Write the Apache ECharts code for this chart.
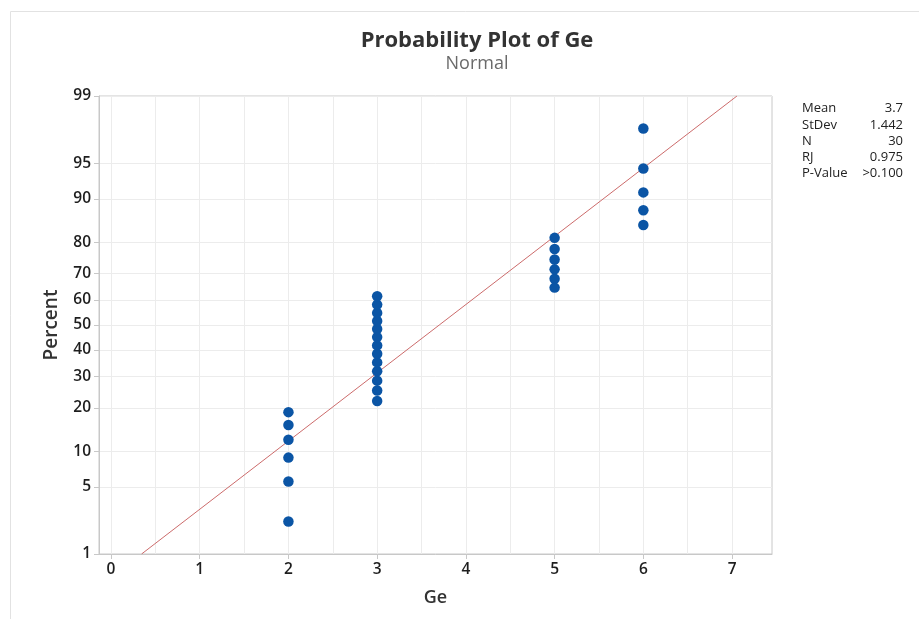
<!DOCTYPE html>
<html>
<head>
<meta charset="utf-8">
<script src="https://cdn.jsdelivr.net/npm/echarts@6/dist/echarts.min.js"></script>
<style>html,body{margin:0;padding:0;background:#fff}#c{width:919px;height:619px}</style>
</head>
<body>
<div id="c"></div>
<script>
// ---- data ----
var geValues = [2,2,2,2,2,2, 3,3,3,3,3,3,3,3,3,3,3,3,3, 5,5,5,5,5,5, 6,6,6,6,6];
var percentValues = [2.3,5.6,8.9,12.2,15.5,18.8, 22.0,25.3,28.6,31.9,35.2,38.5,41.8,45.1,48.4,51.6,54.9,58.2,61.5, 64.8,68.1,71.4,74.7,78.0,81.2, 84.5,87.8,91.1,94.4,97.7];
var fitLineX = [0.345, 7.055];
var fitLineP = [1, 99];
var percentTicks = [1,5,10,20,30,40,50,60,70,80,90,95,99];
var xTicks = [0,1,2,3,4,5,6,7];
var xGridLines = [0,0.5,1,1.5,2,2.5,3,3.5,4,4.5,5,5.5,6,6.5,7];
var statLabels = ['Mean','StDev','N','RJ','P-Value'];
var statValues = ['3.7','1.442','30','0.975','>0.100'];

// normal quantile (probability scale transform)
function normInv(p){
  var a=[-3.969683028665376e+01,2.209460984245205e+02,-2.759285104469687e+02,1.383577518672690e+02,-3.066479806614716e+01,2.506628277459239e+00];
  var b=[-5.447609879822406e+01,1.615858368580409e+02,-1.556989798598866e+02,6.680131188771972e+01,-1.328068155288572e+01];
  var c=[-7.784894002430293e-03,-3.223964580411365e-01,-2.400758277161838e+00,-2.549732539343734e+00,4.374664141464968e+00,2.938163982698783e+00];
  var d=[7.784695709041462e-03,3.224671290700398e-01,2.445134137142996e+00,3.754408661907416e+00];
  var pl=0.02425,q,r;
  if(p<pl){q=Math.sqrt(-2*Math.log(p));return (((((c[0]*q+c[1])*q+c[2])*q+c[3])*q+c[4])*q+c[5])/((((d[0]*q+d[1])*q+d[2])*q+d[3])*q+1);}
  if(p<=1-pl){q=p-0.5;r=q*q;return (((((a[0]*r+a[1])*r+a[2])*r+a[3])*r+a[4])*r+a[5])*q/(((((b[0]*r+b[1])*r+b[2])*r+b[3])*r+b[4])*r+1);}
  q=Math.sqrt(-2*Math.log(1-p));return -(((((c[0]*q+c[1])*q+c[2])*q+c[3])*q+c[4])*q+c[5])/((((d[0]*q+d[1])*q+d[2])*q+d[3])*q+1);
}
function z(pct){return normInv(pct/100);}
function round3(v){return Math.round(v*1000)/1000;}

var yTickZ = percentTicks.map(z);
var labelMap = {};
percentTicks.forEach(function(p,i){labelMap[round3(yTickZ[i])]=String(p);});

var pts = geValues.map(function(g,i){return [g, z(percentValues[i])];});
var linePts = fitLineX.map(function(x,i){return [x, z(fitLineP[i])];});

var FONT = '"Open Sans","Noto Sans",sans-serif';
var chart = echarts.init(document.getElementById('c'), null, {renderer:'canvas'});

var stats = [];
statLabels.forEach(function(l,i){
  stats.push({type:'text', left:802, top:102+i*16.3, style:{text:l, fill:'#222', font:'13px '+FONT}});
  stats.push({type:'text', right:16, top:102+i*16.3, style:{text:statValues[i], fill:'#222', font:'13px '+FONT, textAlign:'right'}});
});

chart.setOption({
  animation:false,
  backgroundColor:'#fff',
  title:{
    text:'Probability Plot of Ge', subtext:'Normal', left:472, textAlign:'center', top:25, itemGap:3,
    textStyle:{fontFamily:FONT, fontSize:22, fontWeight:'bold', color:'#333'},
    subtextStyle:{fontFamily:FONT, fontSize:18, color:'#6a6a6a'}
  },
  grid:{left:99, top:96, right:147, bottom:65, show:true, borderColor:'#c8c8c8', borderWidth:1},
  graphic:[
    {type:'rect', shape:{x:10.5, y:11.5, width:1000, height:700}, style:{fill:'none', stroke:'#e2e2e2', lineWidth:1}, z:-10}
  ].concat(stats),
  xAxis:[{
    type:'value', min:-0.135, max:7.45,
    name:'Ge', nameLocation:'middle', nameGap:35,
    nameTextStyle:{fontFamily:FONT, fontSize:18, fontWeight:600, color:'#333'},
    axisLine:{show:true, onZero:false, lineStyle:{color:'#c8c8c8'}},
    axisTick:{show:true, length:5, lineStyle:{color:'#c8c8c8'}, customValues:xTicks},
    axisLabel:{customValues:xTicks, fontFamily:FONT, fontSize:15.5, fontWeight:600, color:'#1e1e1e', margin:8},
    splitLine:{show:false}
  },{
    type:'value', min:-0.135, max:7.45, position:'bottom',
    axisLine:{show:false, onZero:false}, axisLabel:{show:false},
    axisTick:{show:false, customValues:xGridLines},
    splitLine:{show:true, lineStyle:{color:'#ececec', width:1}}
  }],
  yAxis:{
    type:'value', min:z(1), max:z(99),
    name:'Percent', nameLocation:'middle', nameGap:38, nameRotate:90,
    nameTextStyle:{fontFamily:FONT, fontSize:19, fontWeight:600, color:'#333'},
    axisLine:{show:true, onZero:false, lineStyle:{color:'#c8c8c8'}},
    axisTick:{show:true, length:5, lineStyle:{color:'#c8c8c8'}, customValues:yTickZ},
    axisLabel:{customValues:yTickZ, fontFamily:FONT, fontSize:15.5, fontWeight:600, color:'#1e1e1e', margin:8,
      formatter:function(v){var k=round3(v);return labelMap[k]!==undefined?labelMap[k]:'';}},
    splitLine:{show:true, lineStyle:{color:'#ececec'}}
  },
  series:[{
    type:'line', data:linePts, showSymbol:false, symbol:'none',
    lineStyle:{color:'#cc6b6b', width:1}, z:2
  },{
    type:'scatter', data:pts, symbol:'circle', symbolSize:10.5,
    itemStyle:{color:'#0b55a5', opacity:1}, z:3
  }]
});
</script>
</body>
</html>
